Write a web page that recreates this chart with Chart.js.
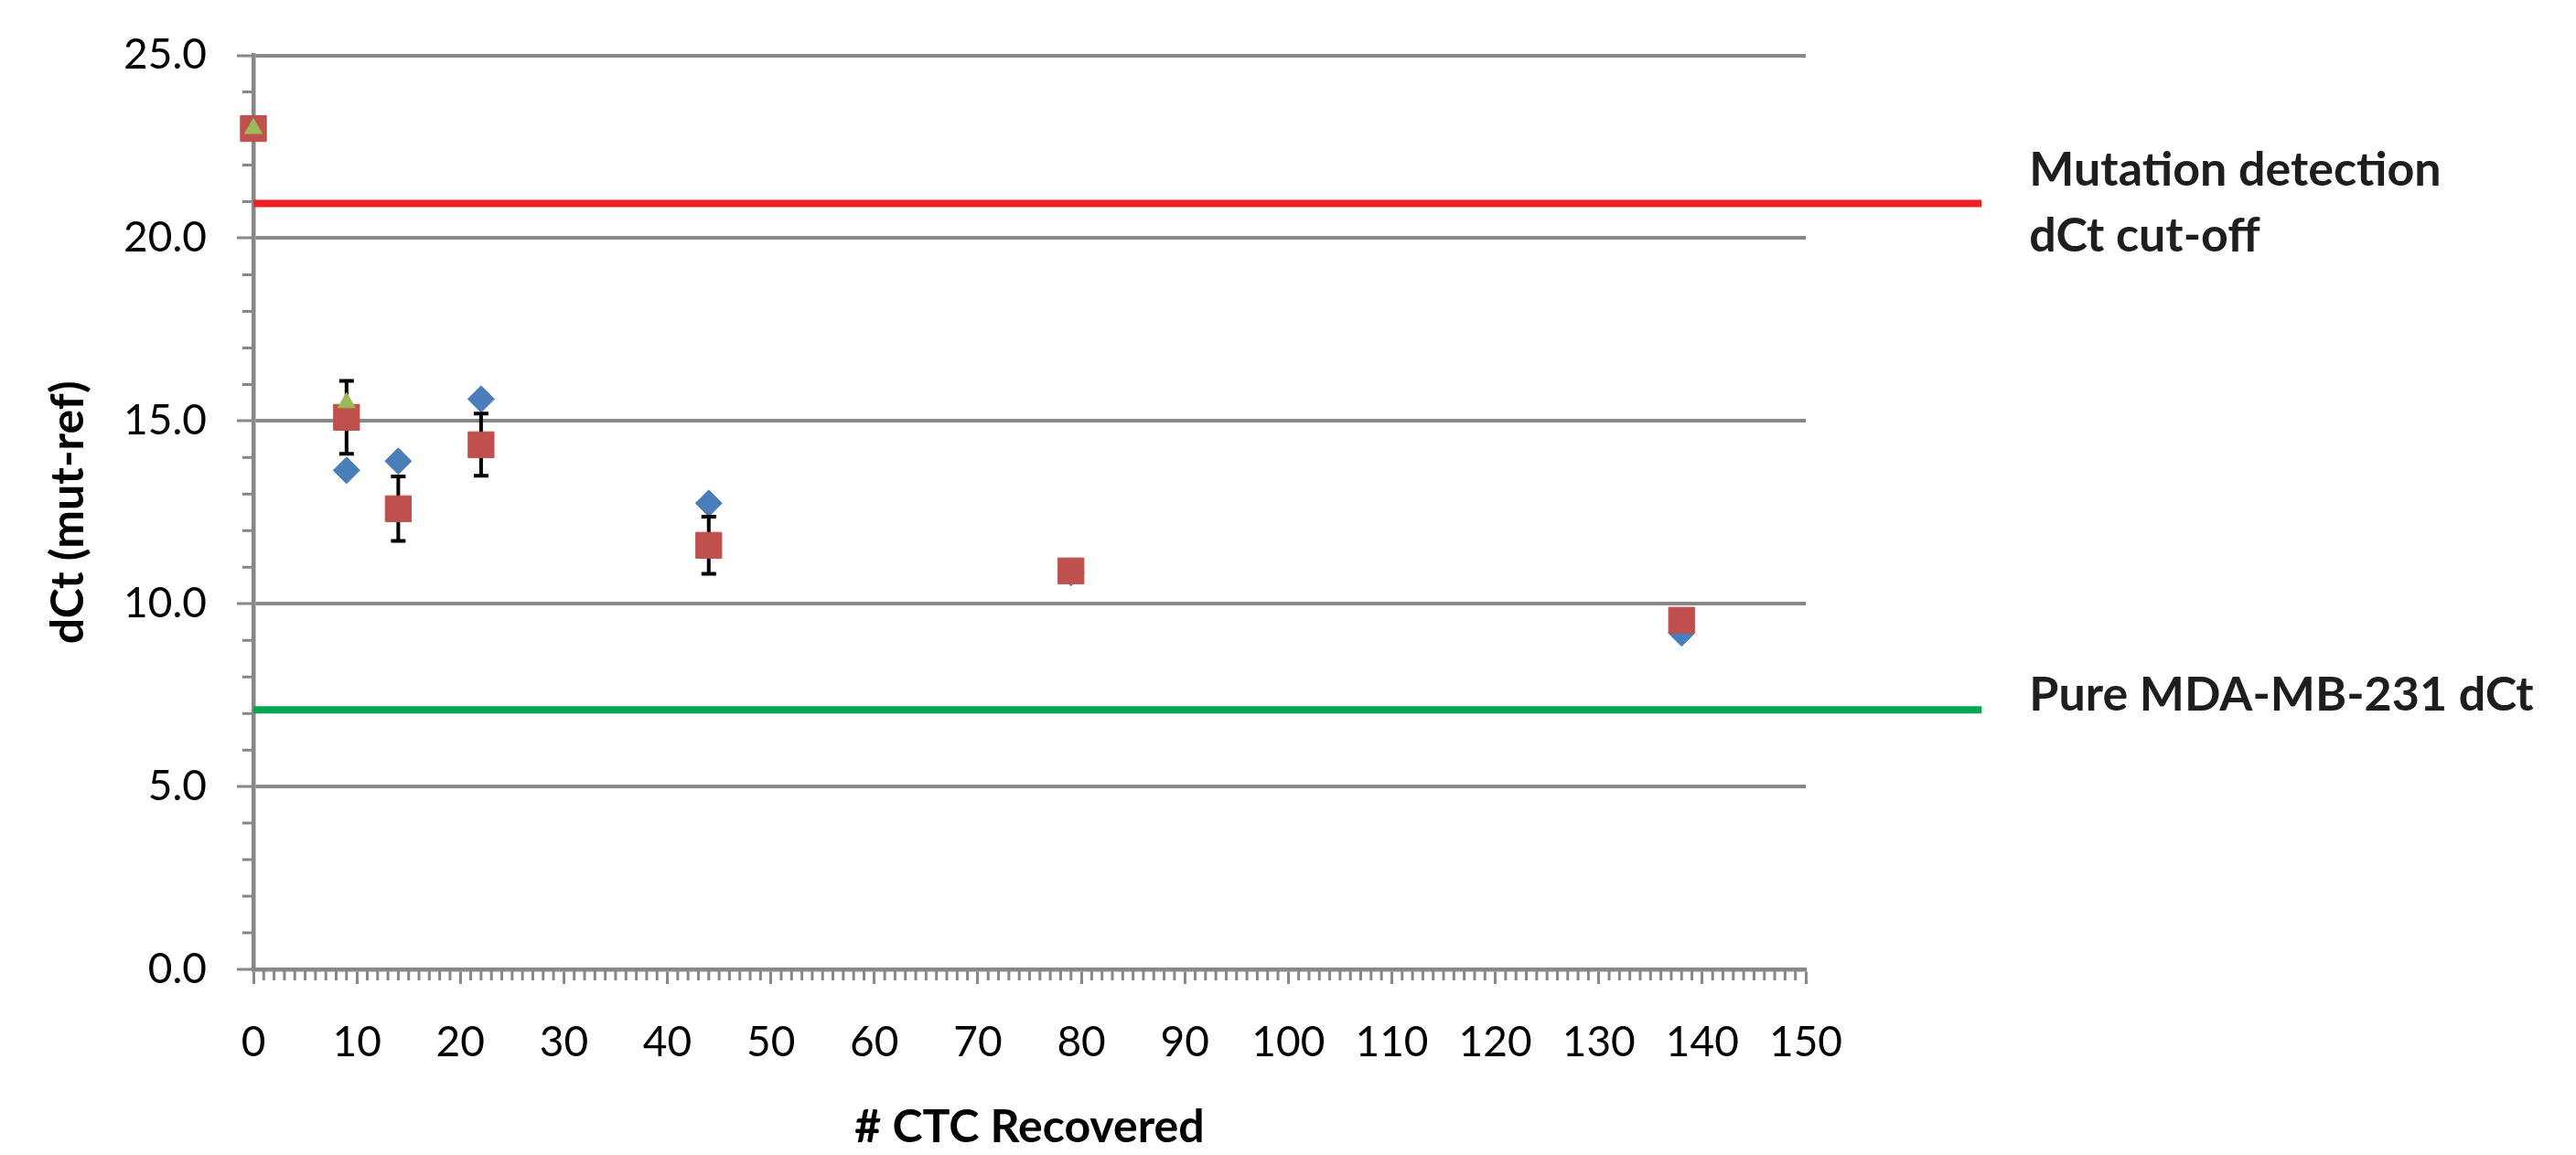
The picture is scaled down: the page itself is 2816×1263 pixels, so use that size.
<!DOCTYPE html>
<html lang="en">
<head>
    <meta charset="UTF-8">
    <title>dCt vs CTC Recovered</title>
    <script src="https://cdn.jsdelivr.net/npm/chart.js"></script>
    <style>
        body { margin: 0; background: #ffffff; }
        #wrap { width: 2816px; height: 1263px; }
    </style>
</head>
<body>
<div id="wrap"><canvas id="ctcChart" width="2816" height="1263"></canvas></div>

<script>
    // # CTC recovered per sample
    const ctcCounts = [0, 9, 14, 22, 44, 79, 138];
    // dCt (mut-ref) per series
    const blueDct = [23.0, 13.65, 13.9, 15.6, 12.75, 10.85, 9.2];
    const redDct = [23.0, 15.1, 12.6, 14.35, 11.6, 10.9, 9.55];
    const redErr = [0.15, 1.0, 0.88, 0.85, 0.78, 0.2, 0.2];
    const greenCtc = [0, 9];
    const greenDct = [23.0, 15.5];

    // reference levels and how far their lines run
    const cutoffDct = 20.95;
    const pureDct = 7.1;
    const refLineX = [0, 167];

    // axis ticks
    const xTicks = [0, 10, 20, 30, 40, 50, 60, 70, 80, 90, 100, 110, 120, 130, 140, 150];
    const yTicks = [0, 5, 10, 15, 20, 25];

    const axisGray = '#878787';
    const RED_INDEX = 1;

    const toPoints = (xs, ys) => xs.map((v, i) => ({ x: v, y: ys[i] }));

    // short unlabeled ticks every 1 unit
    const minorTicks = {
        id: 'minorTicks',
        beforeDatasetsDraw(chart) {
            const { ctx } = chart;
            const x = chart.scales.x, y = chart.scales.y;
            ctx.save();
            ctx.strokeStyle = axisGray;
            ctx.lineWidth = 3;
            ctx.beginPath();
            for (let v = Math.ceil(y.min); v <= y.max; v++) {
                if (v % 5 === 0) continue;
                const py = y.getPixelForValue(v);
                ctx.moveTo(x.left - 12, py);
                ctx.lineTo(x.left, py);
            }
            for (let v = Math.ceil(x.min); v <= x.max; v++) {
                if (v % 10 === 0) continue;
                const px = x.getPixelForValue(v);
                ctx.moveTo(px, y.bottom);
                ctx.lineTo(px, y.bottom + 12);
            }
            ctx.stroke();
            ctx.restore();
        }
    };

    // error bars drawn just before the red squares
    const errorBars = {
        id: 'errorBars',
        beforeDatasetDraw(chart, args) {
            if (args.index !== RED_INDEX) return;
            const { ctx } = chart;
            const x = chart.scales.x, y = chart.scales.y;
            ctx.save();
            ctx.strokeStyle = '#000000';
            ctx.lineWidth = 4;
            ctx.beginPath();
            redDct.forEach((v, i) => {
                const px = x.getPixelForValue(ctcCounts[i]);
                const top = y.getPixelForValue(v + redErr[i]);
                const bot = y.getPixelForValue(v - redErr[i]);
                ctx.moveTo(px, top); ctx.lineTo(px, bot);
                ctx.moveTo(px - 8, top); ctx.lineTo(px + 8, top);
                ctx.moveTo(px - 8, bot); ctx.lineTo(px + 8, bot);
            });
            ctx.stroke();
            ctx.restore();
        }
    };

    // labels next to the reference lines
    const refLabels = {
        id: 'refLabels',
        afterDraw(chart) {
            const { ctx } = chart;
            const x = chart.scales.x, y = chart.scales.y;
            const tx = x.getPixelForValue(refLineX[1]) + 52;
            const cy = y.getPixelForValue(cutoffDct);
            ctx.save();
            ctx.font = 'bold 52px Lato';
            ctx.fillStyle = '#1e1e1e';
            ctx.textAlign = 'left';
            ctx.textBaseline = 'middle';
            ctx.fillText('Mutation detection', tx, cy - 36);
            ctx.fillText('dCt cut-off', tx, cy + 36);
            ctx.fillText('Pure MDA-MB-231 dCt', tx, y.getPixelForValue(pureDct) - 16);
            ctx.restore();
        }
    };

    const ctx = document.getElementById('ctcChart').getContext('2d');
    const ctcChart = new Chart(ctx, {
        type: 'scatter',
        data: {
            datasets: [
                {
                    label: 'Series 3',
                    data: toPoints(greenCtc, greenDct),
                    pointStyle: 'triangle',
                    pointRadius: 11,
                    backgroundColor: '#9BBB59',
                    borderColor: '#9BBB59',
                    borderWidth: 1,
                    clip: false,
                    order: 1
                },
                {
                    label: 'Series 2',
                    data: toPoints(ctcCounts, redDct),
                    pointStyle: 'rect',
                    pointRadius: 20,
                    backgroundColor: '#C0504D',
                    borderColor: '#C0504D',
                    borderWidth: 1,
                    clip: false,
                    order: 2
                },
                {
                    label: 'Series 1',
                    data: toPoints(ctcCounts, blueDct),
                    pointStyle: 'rectRot',
                    pointRadius: 14.5,
                    backgroundColor: '#4A7EBB',
                    borderColor: '#4A7EBB',
                    borderWidth: 1,
                    clip: false,
                    order: 3
                },
                {
                    label: 'Mutation detection dCt cut-off',
                    data: refLineX.map(v => ({ x: v, y: cutoffDct })),
                    showLine: true,
                    borderColor: '#ED2024',
                    borderWidth: 8,
                    pointRadius: 0,
                    clip: false,
                    order: 4
                },
                {
                    label: 'Pure MDA-MB-231 dCt',
                    data: refLineX.map(v => ({ x: v, y: pureDct })),
                    showLine: true,
                    borderColor: '#00A650',
                    borderWidth: 8,
                    pointRadius: 0,
                    clip: false,
                    order: 5
                }
            ]
        },
        options: {
            responsive: false,
            animation: false,
            devicePixelRatio: 1,
            layout: { padding: { top: 58, right: 842, bottom: 0, left: 0 } },
            plugins: {
                legend: { display: false },
                tooltip: { enabled: false }
            },
            scales: {
                x: {
                    type: 'linear',
                    min: 0,
                    max: 150,
                    afterBuildTicks: s => { s.ticks = xTicks.map(v => ({ value: v })); },
                    afterFit: s => { s.height = 203; },
                    ticks: {
                        autoSkip: false,
                        maxRotation: 0,
                        padding: 37,
                        color: '#000000',
                        font: { family: 'Lato', size: 46 }
                    },
                    grid: {
                        drawOnChartArea: false,
                        tickLength: 16,
                        tickWidth: 3,
                        tickColor: axisGray,
                        color: axisGray
                    },
                    border: { color: axisGray, width: 4.5 },
                    title: {
                        display: true,
                        text: '# CTC Recovered',
                        color: '#000000',
                        font: { family: 'Lato', size: 50, weight: 'bold' },
                        padding: { top: 0, bottom: 0 }
                    }
                },
                y: {
                    type: 'linear',
                    min: 0,
                    max: 25,
                    afterBuildTicks: s => { s.ticks = yTicks.map(v => ({ value: v })); },
                    afterFit: s => { s.width = 277; },
                    ticks: {
                        padding: 33,
                        color: '#000000',
                        font: { family: 'Lato', size: 46 },
                        callback: v => v.toFixed(1)
                    },
                    grid: {
                        color: axisGray,
                        lineWidth: 4,
                        tickLength: 18,
                        tickWidth: 3,
                        tickColor: axisGray
                    },
                    border: { color: axisGray, width: 4.5 },
                    title: {
                        display: true,
                        text: 'dCt (mut-ref)',
                        color: '#000000',
                        font: { family: 'Lato', size: 50, weight: 'bold' },
                        padding: { top: 45, bottom: 0 }
                    }
                }
            }
        },
        plugins: [minorTicks, errorBars, refLabels]
    });
</script>
</body>
</html>
